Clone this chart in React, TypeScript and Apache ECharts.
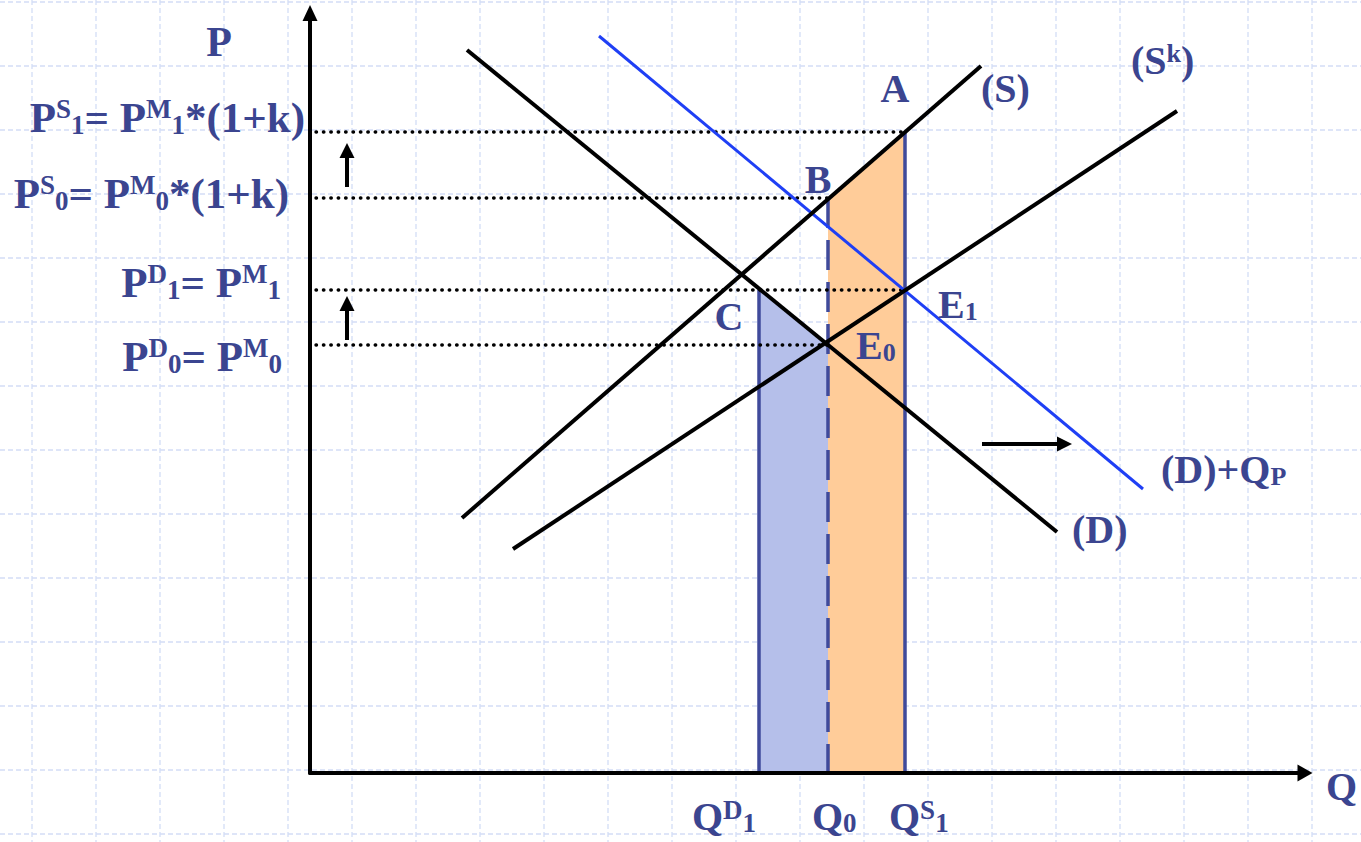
import React, { useEffect, useRef } from 'react';
import * as echarts from 'echarts';

// ---- Data (Q units / P units) ----
const quantityNames = ['Q^D_1', 'Q_0', 'Q^S_1'];
const quantities = [44.9, 51.8, 59.5];
const priceNames = ['P^S_1', 'P^S_0', 'P^D_1', 'P^D_0'];
const priceLevels = [64.1, 57.5, 48.3, 42.8];

const supplyS = [[15.2, 25.5], [67.1, 70.7]];
const supplySk = [[20.3, 22.4], [86.7, 66.2]];
const demandD = [[15.7, 72.3], [74.7, 24.1]];
const demandDQp = [[28.9, 73.7], [83.3, 28.4]];

const dottedStartQ = 0.6;
const shiftArrows = [
  [[3.7, 58.6], [3.7, 62.25]],
  [[3.7, 43.3], [3.7, 46.95]],
  [[67.2, 32.9], [75.45, 32.9]],
];

const axisMaxQ = 99.5;
const axisMaxP = 76;

// ---- Styles ----
const FONT = "'Liberation Serif', 'Times New Roman', serif";
const TEXT = '#3b4590';
const VLINE = '#3f4a9b';
const BLUE = '#1f3ff5';
const ORANGE = '#ffcc99';
const LILAC = '#b5bfea';

const [QD1, Q0, QS1] = quantities;
const [PS1, PS0, PD1, PD0] = priceLevels;

const orangeArea = [[Q0, PS0], [QS1, PS1], [QS1, 0], [Q0, 0]];
const lilacArea = [[QD1, PD1], [Q0, PD0], [Q0, 0], [QD1, 0]];

function richFor(M: number, s: number) {
  const base = { fontFamily: FONT, fontWeight: 'bold', fill: TEXT };
  return {
    m: { ...base, fontSize: M, lineHeight: M },
    u: { ...base, fontSize: s, lineHeight: 0.338 * M + 0.662 * s, verticalAlign: 'top' },
    d: { ...base, fontSize: s, lineHeight: 0.3 * M, verticalAlign: 'bottom' },
  };
}

function label(text: string, x: number, y: number, align: string, M: number, s: number) {
  return {
    type: 'text',
    x,
    y,
    z: 100,
    silent: true,
    style: {
      text,
      rich: richFor(M, s),
      align,
      verticalAlign: 'middle',
      fontFamily: FONT,
      fontWeight: 'bold',
      fontSize: M,
      fill: TEXT,
    },
  };
}

function seg(data: number[][], color: string, width: number, type: any = 'solid', z = 3, cap = 'butt') {
  return {
    type: 'line',
    data,
    symbol: 'none',
    silent: true,
    z,
    lineStyle: { color, width, type, cap },
  };
}

function area(points: number[][], fill: string) {
  return {
    type: 'custom',
    coordinateSystem: 'cartesian2d',
    silent: true,
    z: 1,
    data: points,
    renderItem: (params: any, api: any) => {
      if (params.dataIndex !== 0) return null;
      return {
        type: 'polygon',
        shape: { points: points.map((p) => api.coord(p)) },
        style: { fill },
      };
    },
  };
}

export default function App() {
  const ref = useRef<HTMLDivElement>(null);
  useEffect(() => {
    if (!ref.current) return;
    const chart = echarts.init(ref.current, undefined, { renderer: 'svg' });

    const bg: any[] = [];
    for (let x = 32; x < 1361; x += 64) {
      bg.push({ type: 'line', silent: true, z: 0, shape: { x1: x, y1: 0, x2: x, y2: 842 }, style: { stroke: '#d3ddf6', lineWidth: 1.3, lineDash: [5, 3] } });
    }
    for (let y = 2; y < 842; y += 64) {
      bg.push({ type: 'line', silent: true, z: 0, shape: { x1: 0, y1: y, x2: 1361, y2: y }, style: { stroke: '#d3ddf6', lineWidth: 1.3, lineDash: [5, 3] } });
    }

    const texts = [
      label('{m|P}', 219, 42, 'center', 42, 25),
      label('{m|P}{u|S}{d|1}{m|= P}{u|M}{d|1}{m|*(1+k)}', 305, 117, 'right', 43, 27),
      label('{m|P}{u|S}{d|0}{m|= P}{u|M}{d|0}{m|*(1+k)}', 289, 193, 'right', 43, 27),
      label('{m|P}{u|D}{d|1}{m|= P}{u|M}{d|1}', 281, 282, 'right', 43, 27),
      label('{m|P}{u|D}{d|0}{m|= P}{u|M}{d|0}', 282, 356, 'right', 43, 27),
      label('{m|A}', 895, 88, 'center', 40, 26),
      label('{m|B}', 818, 179, 'center', 40, 26),
      label('{m|C}', 729, 316, 'center', 40, 26),
      label('{m|E}{d|1}', 938, 304, 'left', 40, 26),
      label('{m|E}{d|0}', 856, 345, 'left', 40, 26),
      label('{m|(S)}', 981, 88, 'left', 40, 26),
      label('{m|(S}{u|k}{m|)}', 1131, 60, 'left', 40, 26),
      label('{m|(D)+Q}{d|P}', 1161, 469, 'left', 40, 26),
      label('{m|(D)}', 1072, 529, 'left', 40, 26),
      label('{m|Q}{u|D}{d|1}', 692, 816, 'left', 40, 27),
      label('{m|Q}{d|0}', 812, 816, 'left', 40, 27),
      label('{m|Q}{u|S}{d|1}', 889, 816, 'left', 40, 27),
      label('{m|Q}', 1326, 786, 'left', 40, 27),
    ];

    const dotted = [
      [[dottedStartQ, PS1], [QS1, PS1]],
      [[dottedStartQ, PS0], [Q0, PS0]],
      [[dottedStartQ, PD1], [QS1, PD1]],
      [[dottedStartQ, PD0], [Q0, PD0]],
    ];

    const axisCommon = {
      type: 'value',
      z: 10,
      axisTick: { show: false },
      axisLabel: { show: false },
      splitLine: { show: false },
    };

    const option: any = {
      animation: false,
      backgroundColor: '#ffffff',
      grid: { left: 310, right: 56, top: 13, bottom: 69, containLabel: false, outerBoundsMode: 'none' },
      xAxis: {
        ...axisCommon,
        min: 0,
        max: axisMaxQ,
        axisLine: { show: true, onZero: false, symbol: ['none', 'triangle'], symbolSize: [17, 15], lineStyle: { color: '#000', width: 4 } },
      },
      yAxis: {
        ...axisCommon,
        min: 0,
        max: axisMaxP,
        axisLine: { show: true, onZero: false, symbol: ['none', 'triangle'], symbolSize: [15, 16], lineStyle: { color: '#000', width: 4 } },
      },
      graphic: { elements: [...bg, ...texts] },
      series: [
        area(orangeArea, ORANGE),
        area(lilacArea, LILAC),
        seg([[QD1, PD1], [QD1, 0]], VLINE, 3.5, 'solid', 3),
        seg([[QS1, PS1], [QS1, 0]], VLINE, 3.5, 'solid', 3),
        seg([[Q0, PS0], [Q0, 0]], VLINE, 3.5, [30, 12], 3),
        ...dotted.map((d) => seg(d, '#000', 3.4, [0.5, 6.9], 4, 'round')),
        seg(demandDQp, BLUE, 3, 'solid', 5),
        seg(supplyS, '#000', 4, 'solid', 6),
        seg(supplySk, '#000', 4, 'solid', 6),
        seg(demandD, '#000', 4, 'solid', 6),
        {
          type: 'lines',
          coordinateSystem: 'cartesian2d',
          silent: true,
          z: 7,
          symbol: ['none', 'triangle'],
          symbolSize: 15,
          lineStyle: { color: '#000', width: 4, opacity: 1, curveness: 0 },
          data: shiftArrows.map((c) => ({ coords: c })),
        },
      ],
    };
    chart.setOption(option);
    return () => chart.dispose();
  }, []);
  return (
    <div
      ref={ref}
      style={{ position: 'absolute', left: 0, top: 0, width: 1361, height: 842, background: '#fff' }}
    />
  );
}
